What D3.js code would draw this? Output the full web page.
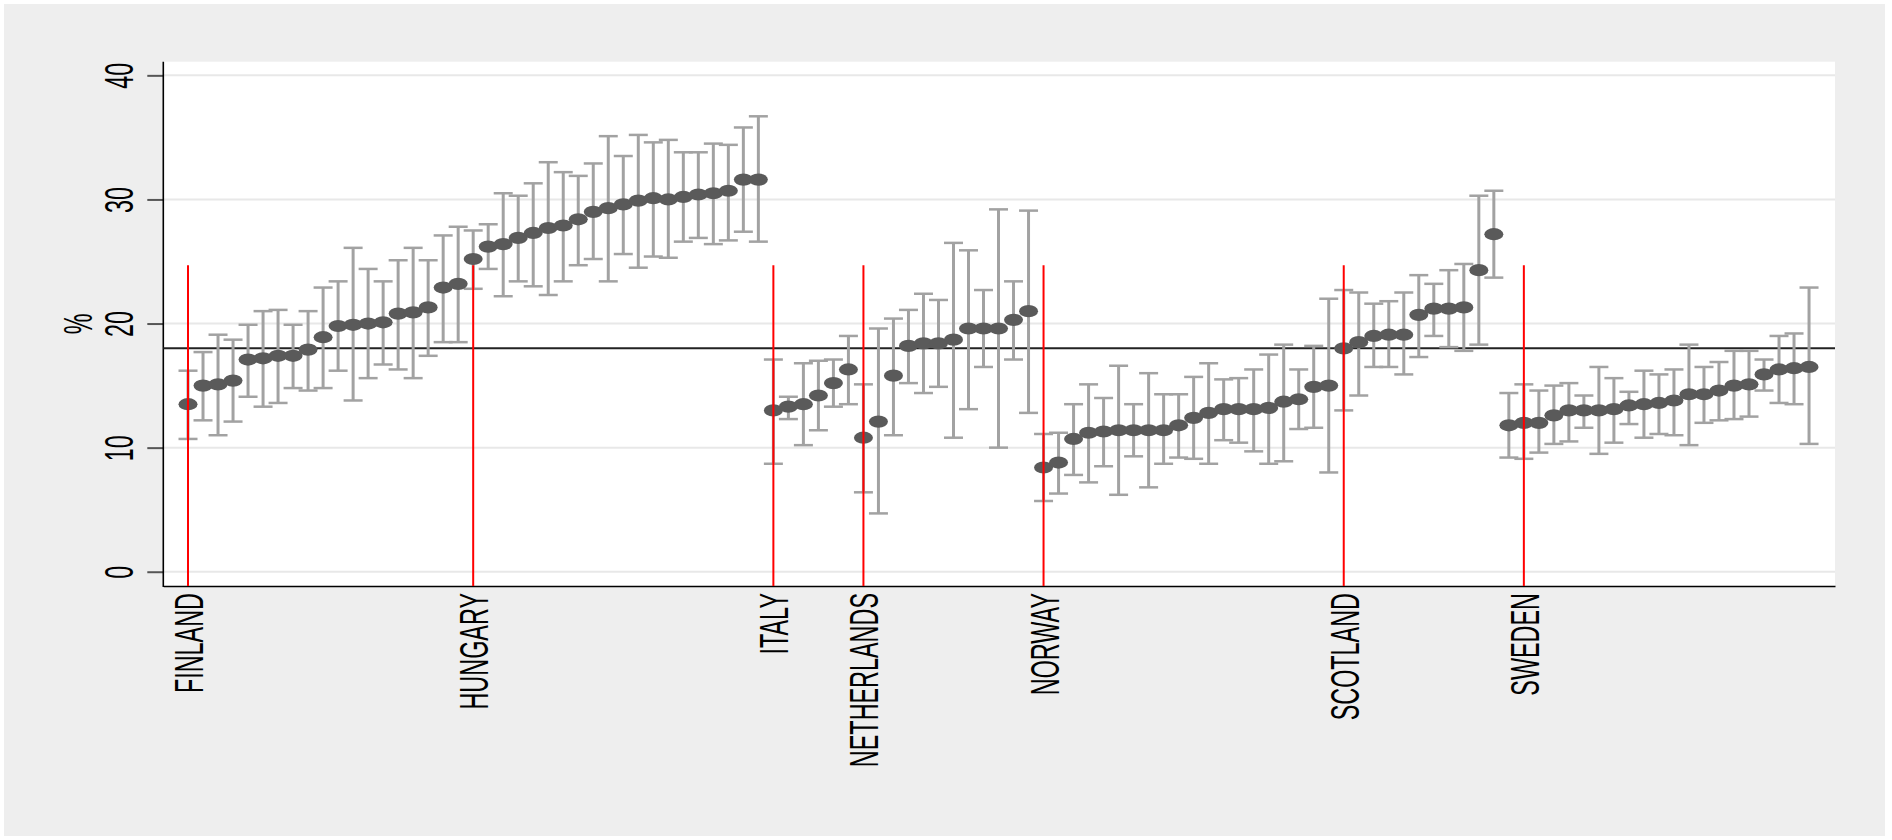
<!DOCTYPE html>
<html>
<head>
<meta charset="utf-8">
<script src="https://cdn.jsdelivr.net/npm/d3@7"></script>
<style>
  body { margin: 0; background: #ffffff; }
  text { font-family: 'Liberation Sans', Arial, sans-serif; }
</style>
</head>
<body>
<div id="chart"></div>
<script>
// country labels on the x axis and the observation where each one sits
const countryLabels = ['FINLAND', 'HUNGARY', 'ITALY', 'NETHERLANDS', 'NORWAY', 'SCOTLAND', 'SWEDEN'];
const countryTicks = [1, 20, 40, 46, 58, 78, 90];

const yTicks = [0, 10, 20, 30, 40];
const refLine = 18;
const markerTop = 24.7; // top end of the red country markers

// point estimates (%), ordered as plotted
const estimates = [
  // finland
  13.5, 15.0, 15.1, 15.4, 17.1, 17.2, 17.4, 17.4, 17.9, 18.9, 19.8, 19.9, 20.0, 20.1, 20.8, 20.9, 21.3, 22.9, 23.2,
  // hungary
  25.2, 26.2, 26.4, 26.9, 27.3, 27.7, 27.9, 28.4, 29.0, 29.3, 29.6, 29.9, 30.1, 30.0, 30.2, 30.4, 30.5, 30.7, 31.6, 31.6,
  // italy
  13.0, 13.3, 13.5, 14.2, 15.2, 16.3,
  // netherlands
  10.8, 12.1, 15.8, 18.2, 18.4, 18.4, 18.7, 19.6, 19.6, 19.6, 20.3, 21.0,
  // norway
  8.4, 8.8, 10.7, 11.2, 11.3, 11.4, 11.4, 11.4, 11.4, 11.8, 12.4, 12.8, 13.1, 13.1, 13.1, 13.2, 13.7, 13.9, 14.9, 15.0,
  // scotland
  18.0, 18.5, 19.0, 19.1, 19.1, 20.7, 21.2, 21.2, 21.3, 24.3, 27.2,
  // sweden
  11.8, 12.0, 12.0, 12.6, 13.0, 13.0, 13.0, 13.1, 13.4, 13.5, 13.6, 13.8, 14.3, 14.3, 14.6, 15.0, 15.1, 15.9, 16.3, 16.4, 16.5
];

// upper ends of the intervals
const upper = [
  16.2, 17.7, 19.1, 18.7, 19.9, 21.0, 21.1, 19.9, 21.0, 22.9, 23.4, 26.1, 24.4, 23.4, 25.1, 26.1, 25.1, 27.1, 27.8,
  27.5, 28.0, 30.5, 30.3, 31.3, 33.0, 32.2, 31.9, 32.9, 35.1, 33.5, 35.2, 34.6, 34.8, 33.8, 33.8, 34.5, 34.4, 35.8, 36.7,
  17.1, 14.1, 16.8, 17.0, 17.1, 19.0,
  15.1, 19.6, 20.4, 21.1, 22.4, 21.9, 26.5, 25.9, 22.7, 29.2, 23.4, 29.1,
  11.1, 11.2, 13.5, 15.1, 14.0, 16.6, 13.5, 16.0, 14.3, 14.3, 15.7, 16.8, 15.5, 15.6, 16.3, 17.5, 18.3, 16.3, 18.2, 22.0,
  22.7, 22.5, 21.6, 21.8, 22.5, 23.9, 23.2, 24.3, 24.8, 30.3, 30.7,
  14.4, 15.1, 14.6, 15.0, 15.2, 14.2, 16.5, 15.6, 14.5, 16.2, 15.9, 16.3, 18.3, 16.5, 16.9, 17.8, 17.8, 17.1, 19.0, 19.2, 22.9
];

// lower ends of the intervals
const lower = [
  10.7, 12.2, 11.0, 12.1, 14.1, 13.3, 13.6, 14.8, 14.6, 14.8, 16.2, 13.8, 15.6, 16.7, 16.3, 15.6, 17.4, 18.5, 18.5,
  22.8, 24.4, 22.2, 23.4, 23.0, 22.3, 23.4, 24.7, 25.2, 23.4, 25.6, 24.5, 25.4, 25.3, 26.6, 26.9, 26.4, 26.7, 27.4, 26.6,
  8.7, 12.3, 10.2, 11.4, 13.3, 13.5,
  6.4, 4.7, 11.0, 15.2, 14.4, 14.9, 10.8, 13.1, 16.5, 10.0, 17.1, 12.8,
  5.7, 6.3, 7.8, 7.2, 8.5, 6.2, 9.3, 6.8, 8.7, 9.2, 9.1, 8.7, 10.6, 10.4, 9.7, 8.7, 8.9, 11.5, 11.6, 8.0,
  13.0, 14.2, 16.5, 16.5, 15.9, 17.3, 19.0, 18.1, 17.8, 18.3, 23.7,
  9.2, 9.1, 9.6, 10.3, 10.5, 11.6, 9.5, 10.4, 11.9, 10.8, 11.1, 11.0, 10.2, 12.0, 12.2, 12.3, 12.5, 14.6, 13.6, 13.5, 10.3
];

const width = 1892;
const height = 840;

// plot region inside the page
const plot = { left: 163.3, right: 1835, top: 61.7, bottom: 586 };

// text is drawn rotated and squashed along the page's vertical direction
const fontSize = 40;
const squash = 0.585;

const svg = d3.select('#chart').append('svg').attr('width', width).attr('height', height);

// outer grey graph region
svg.append('rect').attr('x', 4).attr('y', 4).attr('width', 1881).attr('height', 832).attr('fill', '#eeeeee');
svg.append('rect')
  .attr('x', plot.left).attr('y', plot.top)
  .attr('width', plot.right - plot.left).attr('height', plot.bottom - plot.top)
  .attr('fill', '#ffffff');

const data = estimates.map((v, i) => ({ idx: i + 1, est: v, hi: upper[i], lo: lower[i] }));

const x = d3.scaleLinear().domain([-0.646, estimates.length + 1.73]).range([plot.left, plot.right]);
const y = d3.scaleLinear().domain([-1.15, 41.1]).range([plot.bottom, plot.top]);

// gridlines
svg.append('g')
  .selectAll('line')
  .data(yTicks)
  .enter()
  .append('line')
  .attr('x1', plot.left).attr('x2', plot.right)
  .attr('y1', (d) => y(d)).attr('y2', (d) => y(d))
  .attr('stroke', '#e8e8e8').attr('stroke-width', 2);

// y axis with rotated labels
const yAxis = svg.append('g')
  .attr('transform', `translate(${plot.left},0)`)
  .call(d3.axisLeft(y).tickValues(yTicks).tickSize(16).tickPadding(0).tickSizeOuter(0));
yAxis.select('.domain').remove();
yAxis.selectAll('.tick line').attr('stroke', '#555555').attr('stroke-width', 2);
yAxis.selectAll('.tick text')
  .attr('x', null).attr('dy', null)
  .attr('text-anchor', 'middle')
  .attr('font-size', fontSize)
  .attr('fill', '#000')
  .attr('transform', `translate(-30,0) scale(1,${squash}) rotate(-90)`);

svg.append('line')
  .attr('x1', plot.left).attr('x2', plot.left)
  .attr('y1', plot.top).attr('y2', plot.bottom + 1)
  .attr('stroke', '#000').attr('stroke-width', 1.6);

// y axis title
svg.append('text')
  .attr('text-anchor', 'middle')
  .attr('font-size', fontSize)
  .attr('transform', `translate(92,${(plot.top + plot.bottom) / 2}) scale(1,${squash}) rotate(-90)`)
  .text('%');

// x axis: country names, no tick marks
const xAxis = svg.append('g')
  .attr('transform', `translate(0,${plot.bottom})`)
  .call(d3.axisBottom(x).tickValues(countryTicks).tickFormat((d, i) => countryLabels[i]).tickSize(0).tickSizeOuter(0));
xAxis.select('.domain').attr('stroke', '#000').attr('stroke-width', 1.6);
xAxis.selectAll('.tick text')
  .attr('y', null).attr('dy', null)
  .attr('text-anchor', 'end')
  .attr('font-size', fontSize)
  .attr('fill', '#000')
  .attr('transform', `translate(14.5,7) scale(1,${squash}) rotate(-90)`);

// overall reference line
svg.append('line')
  .attr('x1', plot.left).attr('x2', plot.right)
  .attr('y1', y(refLine)).attr('y2', y(refLine))
  .attr('stroke', '#222222').attr('stroke-width', 2);

// confidence intervals
const bars = svg.append('g').attr('stroke', '#a2a2a2');
bars.selectAll('line.ci')
  .data(data)
  .enter()
  .append('line')
  .attr('class', 'ci')
  .attr('x1', (d) => x(d.idx)).attr('x2', (d) => x(d.idx))
  .attr('y1', (d) => y(d.lo)).attr('y2', (d) => y(d.hi))
  .attr('stroke-width', 3);

['hi', 'lo'].forEach((k) => {
  bars.selectAll(`line.cap-${k}`)
    .data(data)
    .enter()
    .append('line')
    .attr('class', `cap-${k}`)
    .attr('x1', (d) => x(d.idx) - 9.5).attr('x2', (d) => x(d.idx) + 9.5)
    .attr('y1', (d) => y(d[k])).attr('y2', (d) => y(d[k]))
    .attr('stroke-width', 2.5);
});

// point estimates
svg.append('g')
  .selectAll('ellipse')
  .data(data)
  .enter()
  .append('ellipse')
  .attr('cx', (d) => x(d.idx))
  .attr('cy', (d) => y(d.est))
  .attr('rx', 9.5)
  .attr('ry', 6.1)
  .attr('fill', '#5a5a5a');

// red markers where each country starts
svg.append('g')
  .selectAll('line')
  .data(countryTicks)
  .enter()
  .append('line')
  .attr('x1', (d) => x(d)).attr('x2', (d) => x(d))
  .attr('y1', y(markerTop)).attr('y2', plot.bottom)
  .attr('stroke', '#ff0000').attr('stroke-width', 2);
</script>
</body>
</html>
